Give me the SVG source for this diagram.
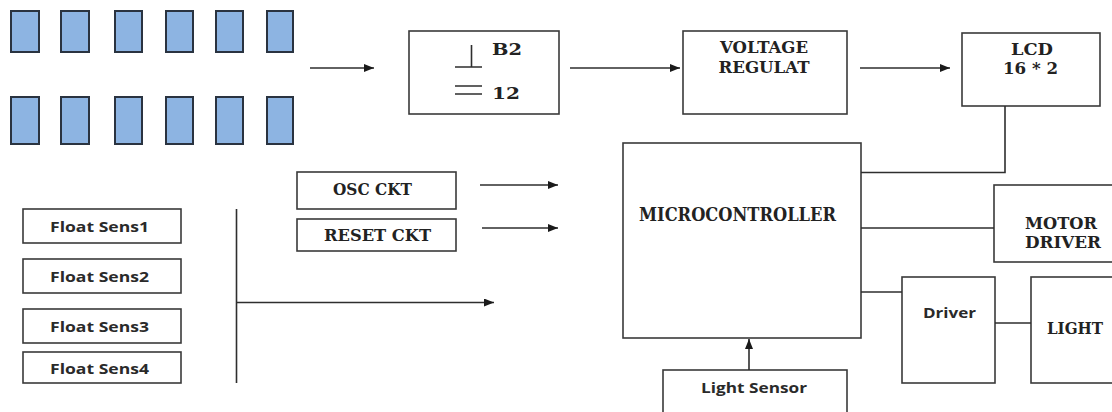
<svg xmlns="http://www.w3.org/2000/svg" width="1112" height="412" viewBox="0 0 1112 412">
<defs>
<style>
.box{fill:#fff;stroke:#3a3a3a;stroke-width:1.6}
.cell{fill:#8db4e2;stroke:#2a3340;stroke-width:2}
.ln{fill:none;stroke:#2e2e2e;stroke-width:1.6}
.ser{font-family:"DejaVu Serif","Liberation Serif",serif;font-weight:bold;fill:#222;text-anchor:middle}
.san{font-family:"Open Sans","DejaVu Sans",sans-serif;font-weight:bold;fill:#2a2a2a;text-anchor:middle}
</style>
<marker id="ah" viewBox="0 0 10 8" refX="10" refY="4" markerWidth="10" markerHeight="8" markerUnits="userSpaceOnUse" orient="auto">
<path d="M0,0 L10,4 L0,8 z" fill="#1a1a1a"/>
</marker>
</defs>
<g id="solar-panel">
<rect class="cell" x="11" y="11" width="28" height="41"/>
<rect class="cell" x="61" y="11" width="28" height="41"/>
<rect class="cell" x="115" y="11" width="27" height="41"/>
<rect class="cell" x="166" y="11" width="27" height="41"/>
<rect class="cell" x="216" y="11" width="27" height="41"/>
<rect class="cell" x="267" y="11" width="26" height="41"/>
<rect class="cell" x="11" y="97" width="28" height="47"/>
<rect class="cell" x="61" y="97" width="28" height="47"/>
<rect class="cell" x="115" y="97" width="27" height="47"/>
<rect class="cell" x="166" y="97" width="27" height="47"/>
<rect class="cell" x="216" y="97" width="27" height="47"/>
<rect class="cell" x="267" y="97" width="26" height="47"/>
</g>
<g id="battery">
<rect class="box" x="409" y="31" width="150" height="83"/>
<path class="ln" d="M471.5,45 V67 M455,67 H482 M455,86 H482 M455,94 H482"/>
<text class="ser" x="507" y="55" font-size="17" textLength="30" lengthAdjust="spacingAndGlyphs">B2</text>
<text class="ser" x="506" y="99" font-size="17" textLength="28" lengthAdjust="spacingAndGlyphs">12</text>
</g>
<g id="voltage-regulator">
<rect class="box" x="683" y="31" width="164" height="83"/>
<text class="ser" x="764" y="53" font-size="16" textLength="88" lengthAdjust="spacingAndGlyphs">VOLTAGE</text>
<text class="ser" x="764" y="73" font-size="16" textLength="91" lengthAdjust="spacingAndGlyphs">REGULAT</text>
</g>
<g id="lcd">
<rect class="box" x="962" y="33" width="138" height="73"/>
<text class="ser" x="1032" y="55" font-size="17" textLength="42" lengthAdjust="spacingAndGlyphs">LCD</text>
<text class="ser" x="1030.5" y="74" font-size="17" textLength="55" lengthAdjust="spacingAndGlyphs">16 * 2</text>
</g>
<g id="osc-ckt">
<rect class="box" x="297" y="172" width="159" height="37"/>
<text class="ser" x="372.5" y="195" font-size="16" textLength="79" lengthAdjust="spacingAndGlyphs">OSC CKT</text>
</g>
<g id="reset-ckt">
<rect class="box" x="297" y="219" width="159" height="32"/>
<text class="ser" x="377.5" y="241" font-size="16" textLength="107" lengthAdjust="spacingAndGlyphs">RESET CKT</text>
</g>
<g id="float-sens1">
<rect class="box" x="23" y="209" width="158" height="34"/>
<text class="san" x="99.5" y="232" font-size="15" textLength="99" lengthAdjust="spacingAndGlyphs">Float Sens1</text>
</g>
<g id="float-sens2">
<rect class="box" x="23" y="259" width="158" height="34"/>
<text class="san" x="99.5" y="282" font-size="15" textLength="99" lengthAdjust="spacingAndGlyphs">Float Sens2</text>
</g>
<g id="float-sens3">
<rect class="box" x="23" y="309" width="158" height="34"/>
<text class="san" x="99.5" y="332" font-size="15" textLength="99" lengthAdjust="spacingAndGlyphs">Float Sens3</text>
</g>
<g id="float-sens4">
<rect class="box" x="23" y="352" width="158" height="31"/>
<text class="san" x="99.5" y="374" font-size="15" textLength="99" lengthAdjust="spacingAndGlyphs">Float Sens4</text>
</g>
<g id="microcontroller">
<rect class="box" x="623" y="143" width="238" height="195"/>
<text class="ser" x="737.5" y="221" font-size="18" textLength="197" lengthAdjust="spacingAndGlyphs">MICROCONTROLLER</text>
</g>
<g id="motor-driver">
<rect class="box" x="994" y="185" width="130" height="77"/>
<text class="ser" x="1061" y="229" font-size="16" textLength="72" lengthAdjust="spacingAndGlyphs">MOTOR</text>
<text class="ser" x="1063" y="248" font-size="16" textLength="76" lengthAdjust="spacingAndGlyphs">DRIVER</text>
</g>
<g id="driver">
<rect class="box" x="902" y="277" width="93" height="106"/>
<text class="san" x="949.5" y="318" font-size="15" textLength="53" lengthAdjust="spacingAndGlyphs">Driver</text>
</g>
<g id="light">
<rect class="box" x="1031" y="277" width="95" height="106"/>
<text class="ser" x="1075" y="334" font-size="16" textLength="56" lengthAdjust="spacingAndGlyphs">LIGHT</text>
</g>
<g id="light-sensor">
<rect class="box" x="663" y="370" width="184" height="60"/>
<text class="san" x="754" y="393" font-size="15" textLength="106" lengthAdjust="spacingAndGlyphs">Light Sensor</text>
</g>
<g id="connectors">
<line class="ln" x1="310" y1="68" x2="374" y2="68" marker-end="url(#ah)"/>
<line class="ln" x1="570" y1="68" x2="680" y2="68" marker-end="url(#ah)"/>
<line class="ln" x1="860" y1="68" x2="950" y2="68" marker-end="url(#ah)"/>
<path class="ln" d="M1005,106 V172.5 H861"/>
<line class="ln" x1="480" y1="185" x2="558" y2="185" marker-end="url(#ah)"/>
<line class="ln" x1="482" y1="228" x2="558" y2="228" marker-end="url(#ah)"/>
<line class="ln" x1="236.5" y1="209" x2="236.5" y2="383"/>
<line class="ln" x1="236.5" y1="302.5" x2="494" y2="302.5" marker-end="url(#ah)"/>
<line class="ln" x1="861" y1="228" x2="994" y2="228"/>
<line class="ln" x1="861" y1="292" x2="902" y2="292"/>
<line class="ln" x1="995" y1="323" x2="1031" y2="323"/>
<line class="ln" x1="749" y1="370" x2="749" y2="339" marker-end="url(#ah)"/>
</g>
</svg>
